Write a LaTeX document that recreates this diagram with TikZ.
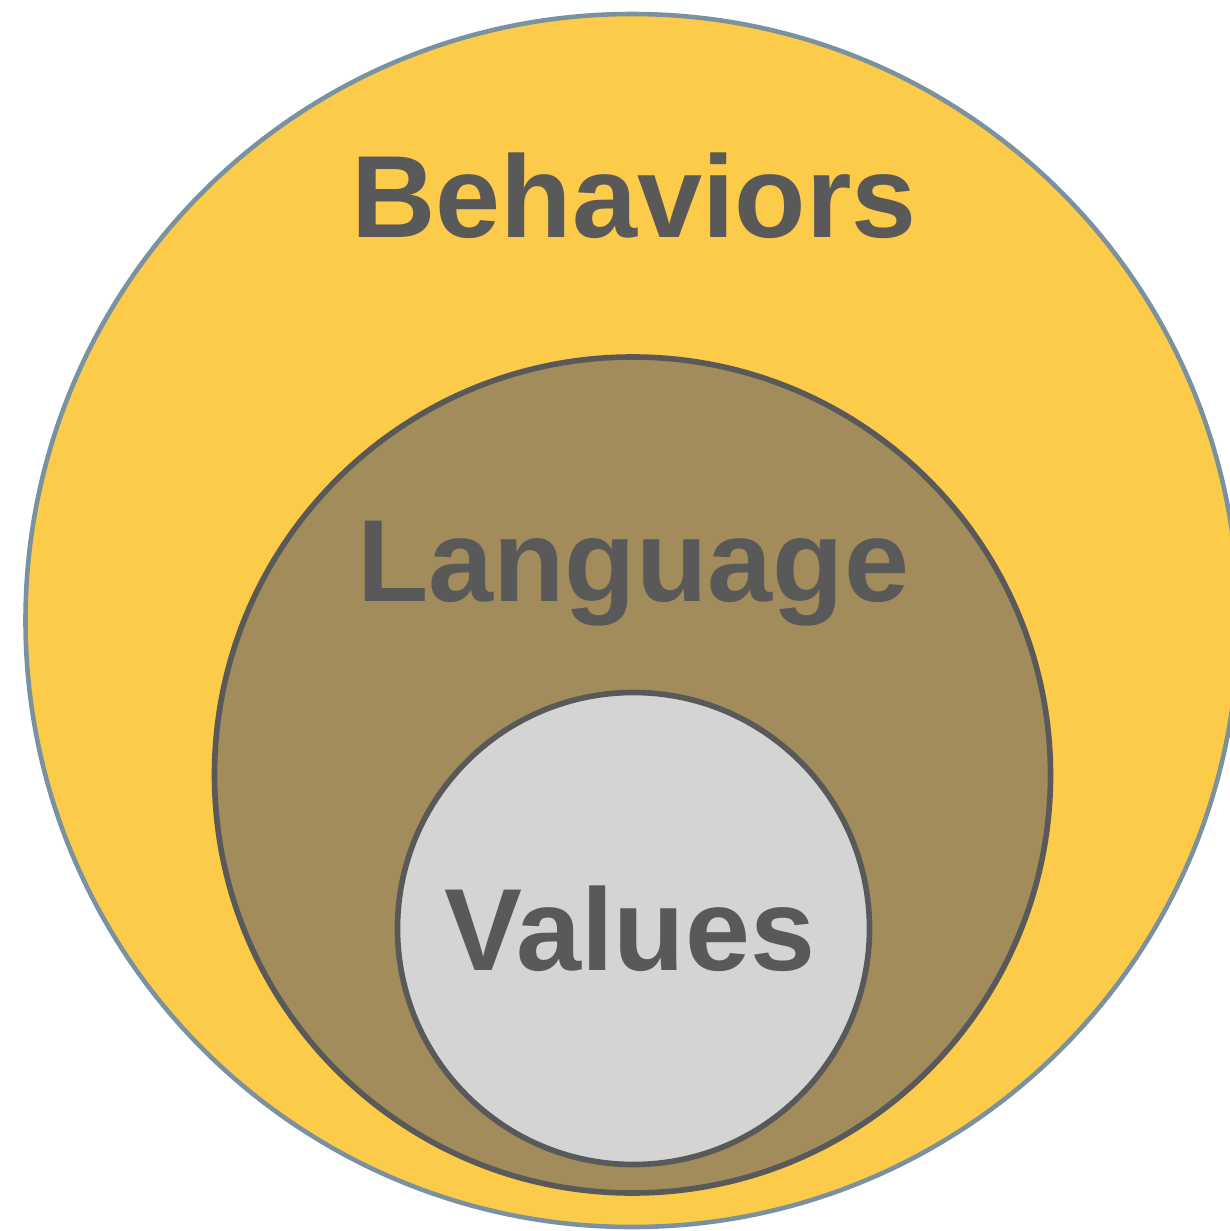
\documentclass[tikz,border=0pt]{standalone}
\usepackage{fontspec}
\setmainfont{Liberation Sans}
\usetikzlibrary{shapes}
\definecolor{behavfill}{HTML}{FDCB4A}
\definecolor{behavline}{HTML}{7A919F}
\definecolor{langfill}{HTML}{A38C5B}
\definecolor{valsfill}{HTML}{D4D4D4}
\definecolor{darkgray}{HTML}{595959}

\begin{document}
\begin{tikzpicture}[lbl/.style={anchor=base,text=darkgray,font=\fontsize{66.5}{80}\selectfont\bfseries}]
    \useasboundingbox (0,0) rectangle (24.58,-24.62);
    \node[fill=behavfill,draw=behavline,line width=2.6pt,circle,inner sep=0pt,minimum size=24.26cm] (behav) at (12.64,-12.41) {};
    \node[fill=langfill,draw=darkgray,line width=3.2pt,circle,inner sep=0pt,minimum size=16.72cm] (lang) at (12.65,-15.50) {};
    \node[fill=valsfill,draw=darkgray,line width=3.2pt,circle,inner sep=0pt,minimum size=9.44cm] (vals) at (12.67,-18.57) {};

    \node[lbl] (behavtxt) at (12.68,-4.74) {Behaviors};
    \node[lbl] (langtxt) at (12.66,-12.02) {Language};
    \node[lbl] (valstxt) at (12.60,-19.40) {Values};
\end{tikzpicture}
\end{document}
